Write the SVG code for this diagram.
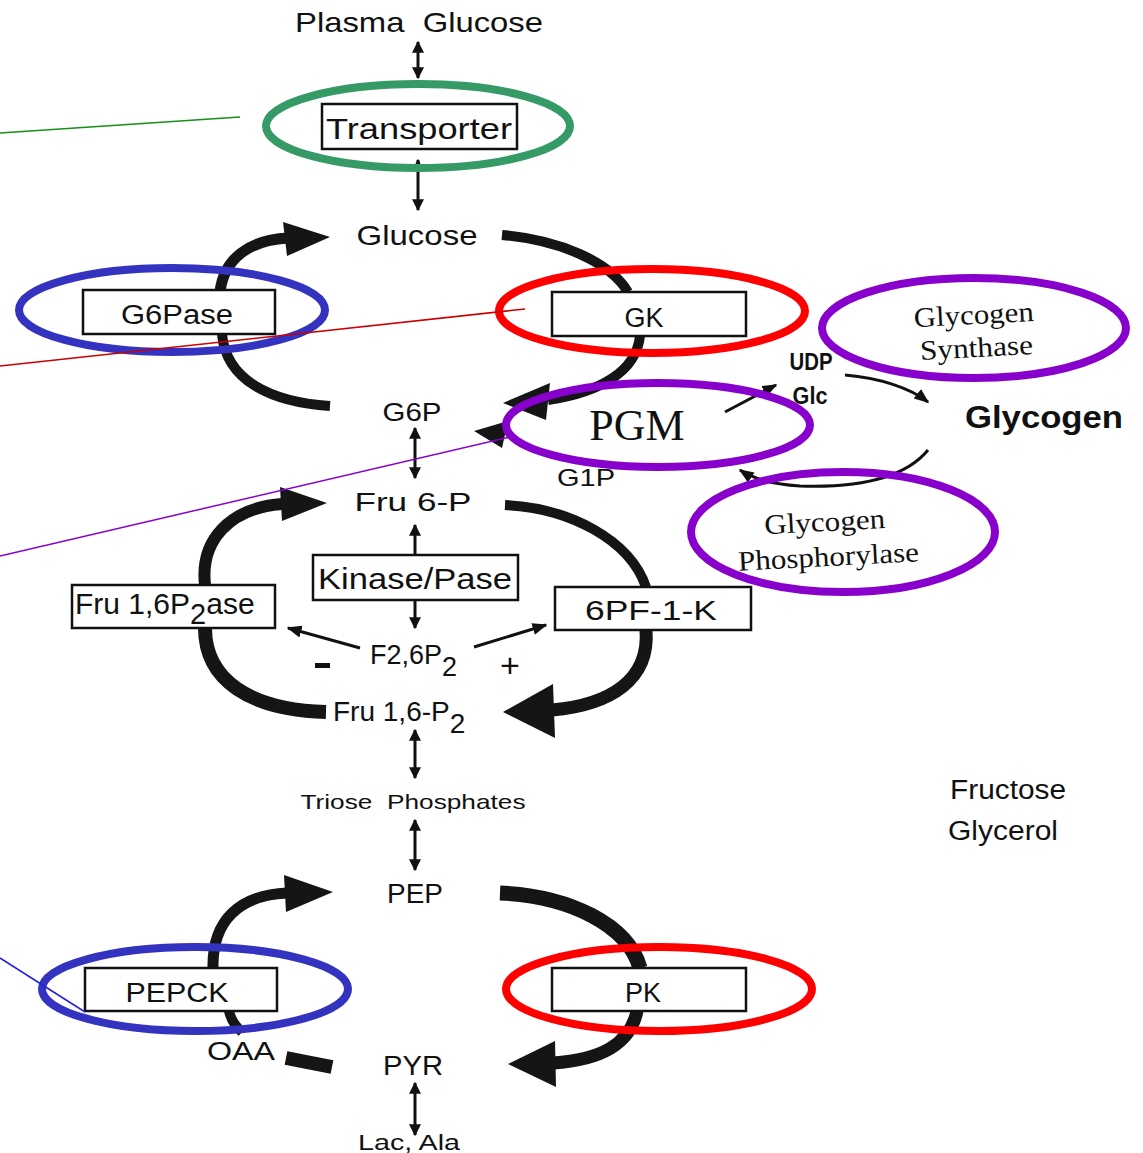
<svg xmlns="http://www.w3.org/2000/svg" width="1143" height="1153" viewBox="0 0 1143 1153">
<defs>
<marker id="ah" viewBox="0 0 10 10" refX="9" refY="5" markerWidth="4" markerHeight="4" orient="auto-start-reverse"><path d="M0,0 L10,5 L0,10 z" fill="#111"/></marker>
<marker id="ahs" viewBox="0 0 10 10" refX="9" refY="5" markerWidth="5" markerHeight="5" orient="auto"><path d="M0,1 L10,5 L0,9 z" fill="#111"/></marker>
<style>
.t{font-family:"Liberation Sans",Arial,sans-serif;fill:#111;text-anchor:middle}
.tl{font-family:"Liberation Sans",Arial,sans-serif;fill:#111}
.tr{font-family:"Liberation Serif","Times New Roman",serif;fill:#111;text-anchor:middle}
.box{fill:#fff;stroke:#111;stroke-width:2.5}
.band{fill:none;stroke:#151515;stroke-linecap:butt}
.head{fill:#151515}
.dbl{stroke:#111;stroke-width:3;fill:none}
.thin{stroke:#111;stroke-width:3;fill:none}
.ell{fill:none;stroke-width:8}
</style>
</defs>
<rect width="1143" height="1153" fill="#fff"/>

<g id="connectors">
<path class="dbl" d="M418,42 L418,78" marker-start="url(#ah)" marker-end="url(#ah)"/>
<path class="dbl" d="M418,160 L418,210" marker-start="url(#ah)" marker-end="url(#ah)"/>
<path class="dbl" d="M415,428 L415,478" marker-start="url(#ah)" marker-end="url(#ah)"/>
<path class="dbl" d="M415,555 L415,525" marker-end="url(#ah)"/>
<path class="dbl" d="M415,600 L415,628" marker-end="url(#ah)"/>
<path class="dbl" d="M415,730 L415,778" marker-start="url(#ah)" marker-end="url(#ah)"/>
<path class="dbl" d="M415,820 L415,870" marker-start="url(#ah)" marker-end="url(#ah)"/>
<path class="dbl" d="M415,1083 L415,1135" marker-start="url(#ah)" marker-end="url(#ah)"/>

<path class="band" stroke-width="11" d="M220,292 C224,258 250,240 288,238"/>
<polygon class="head" points="283,222 330,237 287,256"/>
<path class="band" stroke-width="10" d="M222,334 C226,380 270,402 330,406"/>

<path class="band" stroke-width="10" d="M502,235 C560,240 610,262 628,292"/>
<path class="band" stroke-width="10" d="M640,336 C636,372 600,392 548,400"/>
<polygon class="head" points="550,383 503,403 546,420"/>
<polygon class="head" points="474,431 508,421 502,448"/>

<path class="thin" d="M725,412 L776,385" marker-end="url(#ahs)"/>
<path class="thin" d="M845,375 C880,378 910,388 928,402" marker-end="url(#ahs)"/>
<path class="thin" d="M928,450 C905,478 860,488 800,486 C770,484 752,478 740,470" marker-end="url(#ahs)"/>

<path class="band" stroke-width="12" d="M205,585 C200,540 230,508 282,504"/>
<polygon class="head" points="280,487 327,503 282,521"/>
<path class="band" stroke-width="14" d="M205,628 C205,680 250,710 326,712"/>

<path class="band" stroke-width="10" d="M505,505 C570,508 630,540 646,587"/>
<path class="band" stroke-width="13" d="M646,630 C650,680 610,705 552,710"/>
<polygon class="head" points="553,684 503,712 555,738"/>

<path class="thin" d="M360,648 L288,628" marker-end="url(#ahs)"/>
<path class="thin" d="M474,647 L546,625" marker-end="url(#ahs)"/>

<path class="band" stroke-width="11" d="M213,968 C212,920 240,895 287,893"/>
<polygon class="head" points="284,875 333,892 286,912"/>
<path class="band" stroke-width="10" d="M229,1011 C231,1020 236,1027 242,1032"/>
<path class="band" stroke-width="14" d="M286,1058 L332,1067"/>
<path class="band" stroke-width="15" d="M500,893 C570,896 628,925 640,968"/>
<path class="band" stroke-width="13" d="M637,1011 C630,1045 600,1060 553,1063"/>
<polygon class="head" points="555,1041 508,1064 556,1087"/>
</g>

<g id="node-plasma"><text class="t" x="419" y="32" font-size="28" textLength="248" lengthAdjust="spacingAndGlyphs">Plasma&#160; Glucose</text></g>

<g id="node-transporter">
<rect class="box" x="322" y="104" width="195" height="45"/>
<text class="t" x="419" y="139" font-size="30" textLength="186" lengthAdjust="spacingAndGlyphs">Transporter</text>
<ellipse class="ell" cx="418" cy="126" rx="152" ry="42" stroke="#359a65"/>
</g>

<g id="node-glucose"><text class="t" x="417" y="245" font-size="28" textLength="121" lengthAdjust="spacingAndGlyphs">Glucose</text></g>

<g id="node-g6pase">
<rect class="box" x="83" y="290" width="192" height="44"/>
<text class="t" x="177" y="324" font-size="27" textLength="112" lengthAdjust="spacingAndGlyphs">G6Pase</text>
<ellipse class="ell" cx="172" cy="310" rx="153" ry="42" stroke="#3333c0"/>
</g>

<g id="node-gk">
<rect class="box" x="552" y="292" width="194" height="44"/>
<text class="t" x="644" y="327" font-size="27">GK</text>
<ellipse class="ell" cx="652" cy="311" rx="153" ry="42" stroke="#ff0000"/>
</g>

<g id="node-g6p"><text class="t" x="412" y="421" font-size="25" textLength="59" lengthAdjust="spacingAndGlyphs">G6P</text></g>

<g id="node-g1p"><text class="t" x="586" y="486" font-size="24" textLength="58" lengthAdjust="spacingAndGlyphs">G1P</text></g>

<g id="node-pgm">
<ellipse class="ell" cx="658" cy="425" rx="152" ry="42" stroke="#8800cc"/>
<text class="tr" x="637" y="440" font-size="44">PGM</text>
</g>

<g id="node-udpglc">
<text class="t" x="811" y="370" font-size="24" font-weight="bold" textLength="43" lengthAdjust="spacingAndGlyphs">UDP</text>
<text class="t" x="810" y="404" font-size="24" font-weight="bold" textLength="35" lengthAdjust="spacingAndGlyphs">Glc</text>
</g>

<g id="node-synthase">
<g transform="rotate(-3 975 340)">
<text class="tr" x="975" y="324" font-size="28" textLength="120" lengthAdjust="spacingAndGlyphs">Glycogen</text>
<text class="tr" x="976" y="357" font-size="28" textLength="113" lengthAdjust="spacingAndGlyphs">Synthase</text>
</g>
<ellipse class="ell" cx="974" cy="328" rx="152" ry="50" stroke="#8800cc"/>
</g>

<g id="node-glycogen"><text class="t" x="1044" y="428" font-size="32" font-weight="bold" textLength="158" lengthAdjust="spacingAndGlyphs">Glycogen</text></g>

<g id="node-phosphorylase">
<g transform="rotate(-3 828 548)">
<text class="tr" x="826" y="531" font-size="28" textLength="121" lengthAdjust="spacingAndGlyphs">Glycogen</text>
<text class="tr" x="828" y="566" font-size="28" textLength="181" lengthAdjust="spacingAndGlyphs">Phosphorylase</text>
</g>
<ellipse class="ell" cx="843" cy="532" rx="152" ry="60" stroke="#8800cc"/>
</g>

<g id="node-fru6p"><text class="t" x="413" y="511" font-size="26" textLength="117" lengthAdjust="spacingAndGlyphs">Fru 6-P</text></g>

<g id="node-kinasepase">
<rect class="box" x="313" y="555" width="205" height="45"/>
<text class="t" x="415" y="589" font-size="29" textLength="194" lengthAdjust="spacingAndGlyphs">Kinase/Pase</text>
</g>

<g id="node-fbpase">
<rect class="box" x="72" y="585" width="203" height="43"/>
<text class="tl" x="75" y="614" font-size="30">Fru 1,6P<tspan font-size="29" dy="10">2</tspan><tspan dy="-10">ase</tspan></text>
</g>

<g id="node-pfk">
<rect class="box" x="555" y="587" width="196" height="43"/>
<text class="t" x="651" y="620" font-size="28" textLength="132" lengthAdjust="spacingAndGlyphs">6PF-1-K</text>
</g>

<g id="node-f26p2">
<text class="tl" x="370" y="664" font-size="27">F2,6P<tspan dy="12">2</tspan></text>
<rect x="315" y="663" width="15" height="5" fill="#111"/>
<text class="t" x="510" y="677" font-size="34">+</text>
</g>

<g id="node-fru16p2"><text class="tl" x="333" y="721" font-size="28">Fru 1,6-P<tspan dy="12">2</tspan></text></g>

<g id="node-triose"><text class="t" x="413" y="809" font-size="21" textLength="225" lengthAdjust="spacingAndGlyphs">Triose&#160; Phosphates</text></g>

<g id="node-pep"><text class="t" x="415" y="903" font-size="27" textLength="56" lengthAdjust="spacingAndGlyphs">PEP</text></g>

<g id="node-pepck">
<rect class="box" x="85" y="968" width="192" height="43"/>
<text class="t" x="177" y="1002" font-size="27" textLength="103" lengthAdjust="spacingAndGlyphs">PEPCK</text>
<ellipse class="ell" cx="195" cy="989" rx="153" ry="42" stroke="#3333c0"/>
</g>

<g id="node-pk">
<rect class="box" x="552" y="968" width="194" height="43"/>
<text class="t" x="643" y="1002" font-size="27">PK</text>
<ellipse class="ell" cx="659" cy="989" rx="153" ry="42" stroke="#ff0000"/>
</g>

<g id="node-oaa"><text class="t" x="241" y="1060" font-size="26" textLength="68" lengthAdjust="spacingAndGlyphs">OAA</text></g>
<g id="node-pyr"><text class="t" x="413" y="1075" font-size="28" textLength="60" lengthAdjust="spacingAndGlyphs">PYR</text></g>
<g id="node-lacala"><text class="t" x="409" y="1150" font-size="22" textLength="102" lengthAdjust="spacingAndGlyphs">Lac, Ala</text></g>

<g id="node-fructose">
<text class="t" x="1008" y="799" font-size="27" textLength="116" lengthAdjust="spacingAndGlyphs">Fructose</text>
<text class="t" x="1003" y="840" font-size="27" textLength="110" lengthAdjust="spacingAndGlyphs">Glycerol</text>
</g>

<g id="pointer-lines">
<line x1="0" y1="133" x2="240" y2="117" stroke="#159015" stroke-width="1.5"/>
<line x1="0" y1="366" x2="525" y2="309" stroke="#cc0000" stroke-width="1.5"/>
<line x1="0" y1="556" x2="510" y2="437" stroke="#8800cc" stroke-width="1.5"/>
<line x1="0" y1="958" x2="85" y2="1012" stroke="#2222dd" stroke-width="1.5"/>
</g>
</svg>
